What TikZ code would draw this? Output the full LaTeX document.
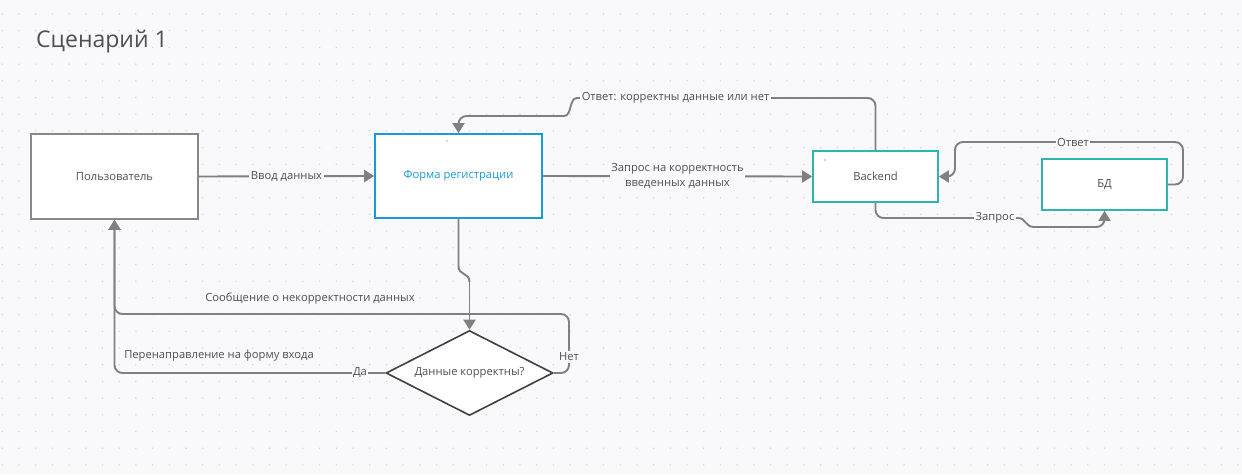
\documentclass[tikz,border=0pt]{standalone}
\usepackage{fontspec}
\setmainfont{Open Sans}
\usetikzlibrary{arrows.meta,shapes.geometric}
\definecolor{bg}{HTML}{F9F9FB}
\definecolor{dotc}{HTML}{D4D4DA}
\definecolor{linec}{HTML}{808080}
\definecolor{txt}{HTML}{505050}
\definecolor{boxgray}{HTML}{888888}
\definecolor{blueb}{HTML}{1A9BD7}
\definecolor{tealb}{HTML}{2DB6AF}
\definecolor{dia}{HTML}{404040}
\begin{document}
\begin{tikzpicture}[x=1pt,y=-1pt,
  box/.style={draw, line width=1.7pt, fill=white, inner sep=0pt, text=txt, font=\fontsize{11.2}{13}\selectfont},
  conn/.style={draw=linec, line width=1.9pt, -{Triangle[length=10pt,width=12pt]}},
  connl/.style={draw=linec, line width=1.9pt},
  lbl/.style={fill=bg, inner sep=1.5pt, text=txt, font=\fontsize{11.2}{15}\selectfont},
  freetxt/.style={inner sep=0pt, text=txt, font=\fontsize{11.2}{13}\selectfont}]
\fill[bg] (0,0) rectangle (1242,474);
\useasboundingbox (0,0) rectangle (1242,474);
\foreach \i in {0,...,74} {
  \foreach \j in {0,...,27} {
    \fill[dotc] (2.3+16.7*\i,14+16.7*\j) circle (0.8pt);
  }
}
\node[anchor=base west, inner sep=0pt, text=txt, font=\fontsize{23}{26}\selectfont] (title) at (36,47) {Сценарий 1};

\node[box, draw=boxgray, minimum width=167pt, minimum height=85pt] (user) at (114.5,176.5) {Пользователь};
\node[box, draw=blueb, text=blueb, minimum width=167pt, minimum height=84pt] (form) at (458.5,176) {Форма регистрации};
\node[box, draw=tealb, minimum width=125pt, minimum height=51pt] (backend) at (875.5,176.5) {Backend};
\node[box, draw=tealb, minimum width=125pt, minimum height=51pt] (bd) at (1104.5,184.5) {БД};
\node[diamond, draw=dia, line width=1.6pt, fill=white, aspect=2, inner sep=0pt, minimum width=167pt, minimum height=85pt, text=txt, font=\fontsize{11.2}{13}\selectfont] (dia) at (469.5,373) {Данные корректны?};

\fill[txt] (447,141) circle (0.7pt);
\fill[txt] (825,160) circle (0.7pt);

% user -> form
\draw[conn] (user.east) -- node[lbl] (l1) {Ввод данных} (form.west);
% form -> backend
\draw[conn] (form.east) -- node[lbl, align=center] (l2) {Запрос на корректность\\введенных данных} (backend.west);
% backend -> form (answer)
\coordinate (a1) at (577,98);
\coordinate (a2) at (564,116);
\draw[connl, rounded corners=8pt] (backend.north) |- (a1);
\draw[connl] (a1) .. controls (569,98) and (572,116) .. (a2);
\draw[conn, rounded corners=8pt] (a2) -| (form.north);
\node[lbl] (l3) at (675.5,98) {Ответ: корректны данные или нет};
% form -> diamond
\coordinate (b1) at (458.5,266);
\coordinate (b2) at (469.5,282);
\draw[connl] (form.south) -- (b1) .. controls (458.5,276) and (469.5,272) .. (b2);
\draw[conn] (b2) -- (dia.north);
% diamond yes -> user
\draw[conn, rounded corners=8pt] (dia.west) -| (user.south);
\node[lbl] (l4) at (360,373) {Да};
\node[freetxt] (l5) at (219,356) {Перенаправление на форму входа};
% diamond no -> user
\coordinate (c1) at (569,373);
\coordinate (c2) at (569,314);
\coordinate (c3) at (114.5,314);
\draw[conn, rounded corners=8pt] (dia.east) -- (c1) -- (c2) -- (c3) -- (user.south);
\node[lbl] (l6) at (569,357) {Нет};
\node[freetxt] (l7) at (310,299) {Сообщение о некорректности данных};
% backend -> bd
\coordinate (d1) at (1018,218);
\coordinate (d2) at (1034,227);
\draw[connl, rounded corners=8pt] (backend.south) |- (d1);
\draw[connl] (d1) .. controls (1026,218) and (1025,227) .. (d2);
\draw[conn, rounded corners=8pt] (d2) -| (bd.south);
\node[lbl] (l8) at (995,218) {Запрос};
% bd -> backend
\coordinate (e1) at (1183,184.5);
\coordinate (e2) at (1183,142);
\coordinate (e3) at (955,142);
\coordinate (e4) at (955,176.5);
\draw[conn, rounded corners=8pt] (bd.east) -- (e1) -- (e2) -- (e3) -- (e4) -- (backend.east);
\node[lbl] (l9) at (1073,142) {Ответ};
\end{tikzpicture}
\end{document}
